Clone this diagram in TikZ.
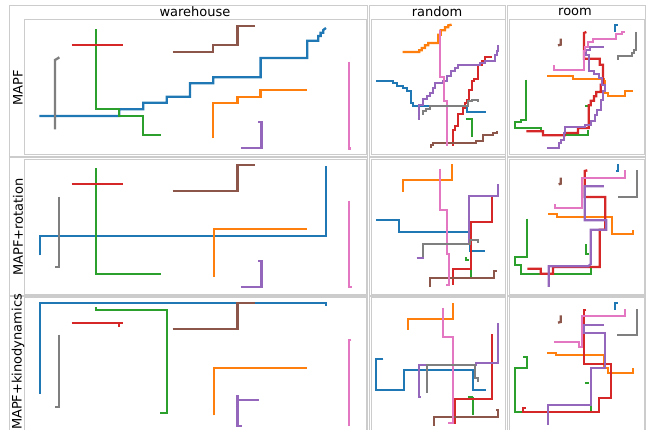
\documentclass[tikz,border=0pt]{standalone}
\usepackage{fontspec}
\setmainfont{DejaVu Sans}
\usepackage{tikz}
\usetikzlibrary{positioning}
\usepackage{xcolor}
\definecolor{TabBlue}{HTML}{1F77B4}
\definecolor{TabOrange}{HTML}{FF7F0E}
\definecolor{TabGreen}{HTML}{2CA02C}
\definecolor{TabRed}{HTML}{D62728}
\definecolor{TabPurple}{HTML}{9467BD}
\definecolor{TabBrown}{HTML}{8C564B}
\definecolor{TabPink}{HTML}{E377C2}
\definecolor{TabGray}{HTML}{7F7F7F}
\definecolor{Spine}{HTML}{CCCCCC}
\tikzset{
  traj/.style={line width=2.3pt, line join=miter, line cap=butt},
  subbox/.style={draw=Spine, line width=0.8pt},
  axbox/.style={draw=Spine, line width=0.7pt},
  coltitle/.style={font=\fontsize{13}{15}\selectfont, inner sep=0pt},
  rowtitle/.style={font=\fontsize{13}{15}\selectfont, inner sep=0pt, rotate=90},
  panel/.style={x=0.3333pt, y=-0.3333pt},
}

\begin{document}
\begin{tikzpicture}[x=1pt, y=-1pt]
    \useasboundingbox (0,0) rectangle (646,430);
    \clip (0,0) rectangle (646,430);
    \fill[white] (0,0) rectangle (646,430);

    % frames of the nine panels
    \foreach \ya/\yb/\yc/\yd in {5/156/19/154, 157/295/159/294, 296/436/297/436} {
      \draw[subbox] (9,\ya) rectangle (367,\yb);
      \draw[axbox] (24,\yc) rectangle (366,\yd);
      \draw[subbox] (369,\ya) rectangle (505.5,\yb);
      \draw[axbox] (371,\yc) rectangle (505,\yd);
      \draw[subbox] (507,\ya) rectangle (645,\yb);
      \draw[axbox] (509,\yc) rectangle (644,\yd);
    }

    \node[coltitle] (warehouse) at (195,12) {warehouse};
    \node[coltitle] (random) at (437,12) {random};
    \node[coltitle] (room) at (575,12) {room};
    \node[rowtitle] (mapf) at (18,88) {MAPF};
    \node[rowtitle] (rotation) at (18,227) {MAPF+rotation};
    \node[rowtitle] (kino) at (18,362) {MAPF+kinodynamics};

    % warehouse, MAPF
    \begin{scope}[xshift=0pt, yshift=0pt, panel]
      \draw[traj, TabBlue] (118,348) -- (358,348) -- (358,328) -- (430,328) -- (430,308) -- (500,308) -- (500,290) -- (570,290) -- (570,250) -- (640,250) -- (640,232) -- (782,232) -- (782,174) -- (922,174) -- (922,122) -- (955,122) -- (955,108) -- (962,108) -- (962,98) -- (970,98) -- (970,90) -- (978,84);
      \draw[traj, TabOrange] (640,415) -- (640,310) -- (713,310) -- (713,290) -- (782,290) -- (782,270) -- (920,270);
      \draw[traj, TabGreen] (288,88) -- (288,328) -- (358,328) -- (358,348) -- (430,348) -- (430,406) -- (484,406);
      \draw[traj, TabRed] (215,135) -- (368,135);
      \draw[traj, TabPurple] (723,444) -- (785,444) -- (785,366) -- (775,366);
      \draw[traj, TabBrown] (518,155) -- (640,155) -- (640,135) -- (713,135) -- (713,77) -- (766,77);
      \draw[traj, TabPink] (1047,185) -- (1047,446) -- (1054,446);
      \draw[traj, TabGray] (165,388) -- (165,180) -- (172,176) -- (178,172);
    \end{scope}

    % warehouse, MAPF+rotation
    \begin{scope}[xshift=0pt, yshift=-150pt, panel]
      \draw[traj, TabBlue] (120,316) -- (120,257) -- (978,257) -- (978,48);
      \draw[traj, TabOrange] (642,380) -- (642,237) -- (920,237);
      \draw[traj, TabGreen] (288,55) -- (288,372) -- (484,372);
      \draw[traj, TabRed] (215,102) -- (368,102);
      \draw[traj, TabPurple] (723,410) -- (785,410) -- (785,332) -- (775,332);
      \draw[traj, TabBrown] (518,122) -- (713,122) -- (713,44) -- (766,44);
      \draw[traj, TabPink] (1047,152) -- (1047,410) -- (1056,410);
      \draw[traj, TabGray] (178,140) -- (178,352) -- (165,352);
    \end{scope}

    % warehouse, MAPF+kinodynamics
    \begin{scope}[xshift=0pt, yshift=-290pt, panel]
      \draw[traj, TabBlue] (120,312) -- (120,40) -- (978,40) -- (978,48);
      \draw[traj, TabOrange] (642,376) -- (642,234) -- (920,234);
      \draw[traj, TabGreen] (288,52) -- (288,60) -- (500,60) -- (500,368) -- (480,368);
      \draw[traj, TabRed] (215,98) -- (368,98) (358,98) -- (358,112);
      \draw[traj, TabPurple] (713,316) -- (713,408) -- (725,408) (713,330) -- (778,330);
      \draw[traj, TabBrown] (518,118) -- (713,118) -- (713,40) -- (766,40);
      \draw[traj, TabPink] (1054,150) -- (1047,150) -- (1047,408);
      \draw[traj, TabGray] (178,135) -- (178,350) -- (165,350);
    \end{scope}

    % random, MAPF
    \begin{scope}[xshift=370pt, yshift=-18pt, panel]
      \draw[traj, TabBlue] (18,188) -- (68,188) -- (68,195) -- (80,195) -- (80,203) -- (100,203) -- (100,210) -- (110,210) -- (110,218) -- (122,218) -- (122,255) -- (128,255) -- (128,263) -- (290,263) -- (290,282) -- (348,282);
      \draw[traj, TabOrange] (98,102) -- (148,102) -- (148,97) -- (155,97) -- (155,90) -- (165,90) -- (165,82) -- (175,82) -- (175,75) -- (205,75) -- (205,50) -- (212,50) -- (212,37) -- (225,37) -- (225,28) -- (235,28) -- (235,22) -- (245,20);
      \draw[traj, TabGreen] (288,302) -- (305,302) -- (305,358);
      \draw[traj, TabRed] (365,118) -- (345,118) -- (345,128) -- (335,128) -- (335,140) -- (325,140) -- (325,183) -- (312,183) -- (312,190) -- (305,190) -- (305,215) -- (298,215) -- (298,245) -- (292,245) -- (292,255) -- (285,255) -- (285,270) -- (278,270) -- (278,288) -- (265,288) -- (265,325) -- (255,325) -- (255,335) -- (250,335) -- (250,385);
      \draw[traj, TabPurple] (143,303) -- (148,303) -- (148,262) -- (160,262) -- (160,242) -- (172,242) -- (172,235) -- (180,235) -- (180,225) -- (190,225) -- (190,210) -- (195,210) -- (195,195) -- (220,195) -- (220,188) -- (230,188) -- (230,175) -- (242,175) -- (242,160) -- (255,160) -- (255,150) -- (265,150) -- (265,142) -- (330,142) -- (330,135) -- (345,135) -- (345,128) -- (375,128) -- (375,112) -- (380,112) -- (380,100) -- (385,100) -- (385,80);
      \draw[traj, TabBrown] (182,390) -- (182,380) -- (190,380) -- (190,376) -- (318,376) -- (318,368) -- (338,368) -- (338,350) -- (370,350) -- (370,345) -- (380,345) -- (380,340);
      \draw[traj, TabPink] (210,35) -- (210,178) -- (222,178) -- (222,248) -- (230,248) -- (230,385);
      \draw[traj, TabGray] (160,290) -- (160,280) -- (168,280) -- (168,272) -- (180,272) -- (180,264) -- (295,264) -- (295,250) -- (305,250) -- (305,247) -- (325,247) -- (325,252);
    \end{scope}

    % room, MAPF
    \begin{scope}[xshift=508pt, yshift=-18pt, panel]
      \draw[traj, TabBlue] (322,42) -- (322,22) -- (330,22);
      \draw[traj, TabOrange] (118,175) -- (195,175) -- (195,182) -- (288,182) -- (288,190) -- (292,190) -- (292,225) -- (300,225) -- (300,235) -- (350,235) -- (350,218) -- (375,218);
      \draw[traj, TabGreen] (55,185) -- (55,305) -- (38,305) -- (38,312) -- (20,312) -- (20,330) -- (98,330) -- (98,340) -- (105,340) -- (105,352) -- (240,352) -- (240,335) (232,265) -- (242,265) -- (242,272);
      \draw[traj, TabRed] (235,42) -- (228,45) -- (228,122) -- (275,122) -- (275,140) -- (285,140) -- (285,200) -- (278,200) -- (278,222) -- (265,222) -- (265,235) -- (258,235) -- (258,248) -- (248,248) -- (248,262) -- (242,262) -- (242,330) -- (210,330) -- (210,345) -- (170,345) -- (170,352) -- (105,352) -- (105,340) -- (55,340);
      \draw[traj, TabPurple] (288,88) -- (245,88) -- (245,95) -- (235,95) -- (235,112) -- (242,112) -- (242,160) -- (258,160) -- (258,168) -- (272,168) -- (272,180) -- (282,180) -- (282,200) -- (290,200) -- (290,220) -- (285,220) -- (285,245) -- (280,245) -- (280,275) -- (268,275) -- (268,290) -- (262,290) -- (262,310) -- (248,310) -- (248,322) -- (232,322) -- (232,328) -- (172,328) -- (172,345) -- (168,345) -- (168,365) -- (160,365) -- (160,375) -- (152,375) -- (152,390) -- (118,390);
      \draw[traj, TabBrown] (158,62) -- (158,80) -- (150,82);
      \draw[traj, TabPink] (350,42) -- (342,42) -- (342,48) -- (325,48) -- (325,62) -- (255,62) -- (255,72) -- (240,72) -- (240,88) -- (232,88) -- (232,100) -- (228,100) -- (228,155) -- (138,155) -- (138,140);
      \draw[traj, TabGray] (385,42) -- (385,95) -- (378,95) -- (378,105) -- (372,105) -- (372,115) -- (330,115) -- (330,125);
    \end{scope}

    % random, MAPF+rotation
    \begin{scope}[xshift=370pt, yshift=-157pt, panel]
      \draw[traj, TabBlue] (18,188) -- (88,188) -- (88,225) -- (300,225) -- (300,283) -- (345,283);
      \draw[traj, TabOrange] (100,105) -- (100,68) -- (245,68) -- (245,20);
      \draw[traj, TabGreen] (288,300) -- (288,310) -- (298,310) (302,340) -- (302,360);
      \draw[traj, TabRed] (365,118) -- (365,195) -- (302,195) -- (302,335) -- (248,335) -- (248,385);
      \draw[traj, TabPurple] (140,302) -- (160,302) -- (160,262) -- (298,262) -- (298,118) -- (385,118) -- (385,82);
      \draw[traj, TabBrown] (180,390) -- (180,362) -- (372,362) -- (372,342) -- (380,342);
      \draw[traj, TabPink] (210,35) -- (210,158) -- (232,158) -- (232,290) -- (238,290) -- (238,385) -- (228,385);
      \draw[traj, TabGray] (160,300) -- (160,262) -- (300,262) -- (300,248) -- (325,248) -- (325,258);
    \end{scope}

    % room, MAPF+rotation
    \begin{scope}[xshift=508pt, yshift=-157pt, panel]
      \draw[traj, TabBlue] (325,42) -- (330,42) -- (330,20);
      \draw[traj, TabOrange] (120,172) -- (148,172) -- (148,180) -- (312,180) -- (312,232) -- (375,232) -- (375,218);
      \draw[traj, TabGreen] (58,185) -- (58,300) -- (20,300) -- (20,325) -- (38,325) -- (38,350) -- (250,350) -- (250,332) (235,262) -- (235,292) -- (242,292);
      \draw[traj, TabRed] (238,40) -- (230,42) -- (230,120) -- (292,120) -- (292,218) -- (275,218) -- (275,330) -- (135,330) -- (135,350) -- (98,350) -- (98,335) -- (58,335);
      \draw[traj, TabPurple] (288,88) -- (230,88) -- (230,190) -- (295,190) -- (295,218) -- (248,218) -- (248,322) -- (240,328) -- (122,328) -- (122,390);
      \draw[traj, TabBrown] (158,62) -- (158,80) -- (152,82);
      \draw[traj, TabPink] (350,40) -- (350,62) -- (222,62) -- (222,152) -- (140,152) -- (140,140);
      \draw[traj, TabGray] (388,40) -- (388,120) -- (330,120);
    \end{scope}

    % random, MAPF+kinodynamics
    \begin{scope}[xshift=370pt, yshift=-296pt, panel]
      \draw[traj, TabBlue] (40,188) -- (18,188) -- (18,282) -- (102,282) -- (102,222) -- (308,222) -- (308,282) -- (348,282);
      \draw[traj, TabOrange] (115,102) -- (115,68) -- (250,68) -- (250,20);
      \draw[traj, TabGreen] (295,302) -- (310,302) (308,302) -- (308,358);
      \draw[traj, TabRed] (365,115) -- (365,308) -- (255,308) -- (255,385);
      \draw[traj, TabPurple] (152,302) -- (148,302) -- (148,208) -- (318,208) -- (318,202) -- (385,202) -- (385,80);
      \draw[traj, TabBrown] (192,390) -- (192,362) -- (385,362) -- (385,342) -- (378,342);
      \draw[traj, TabPink] (218,35) -- (218,122) -- (248,122) -- (248,382) -- (235,382);
      \draw[traj, TabGray] (172,290) -- (172,208) -- (315,208) -- (315,245) -- (325,245) -- (325,258);
    \end{scope}

    % room, MAPF+kinodynamics
    \begin{scope}[xshift=508pt, yshift=-296pt, panel]
      \draw[traj, TabBlue] (322,42) -- (322,20) -- (330,20);
      \draw[traj, TabOrange] (118,170) -- (145,170) -- (145,178) -- (288,178) -- (288,215) -- (300,215) -- (300,230) -- (375,230) -- (375,215);
      \draw[traj, TabGreen] (45,182) -- (58,182) -- (58,215) -- (20,215) -- (20,348) -- (45,348) (248,330) -- (248,345) (232,262) -- (242,262);
      \draw[traj, TabRed] (235,42) -- (228,42) -- (228,205) -- (310,205) -- (310,305) -- (272,305) -- (272,348) -- (45,348) -- (45,335) -- (55,335);
      \draw[traj, TabPurple] (288,86) -- (228,86) -- (228,112) -- (292,112) -- (292,215) -- (248,215) -- (248,328) -- (120,328) -- (120,388);
      \draw[traj, TabBrown] (158,58) -- (158,78) -- (150,80);
      \draw[traj, TabPink] (350,40) -- (350,60) -- (222,60) -- (222,152) -- (212,152) -- (212,138) -- (138,138);
      \draw[traj, TabGray] (388,40) -- (388,118) -- (328,118);
    \end{scope}
  \end{tikzpicture}
\end{document}
